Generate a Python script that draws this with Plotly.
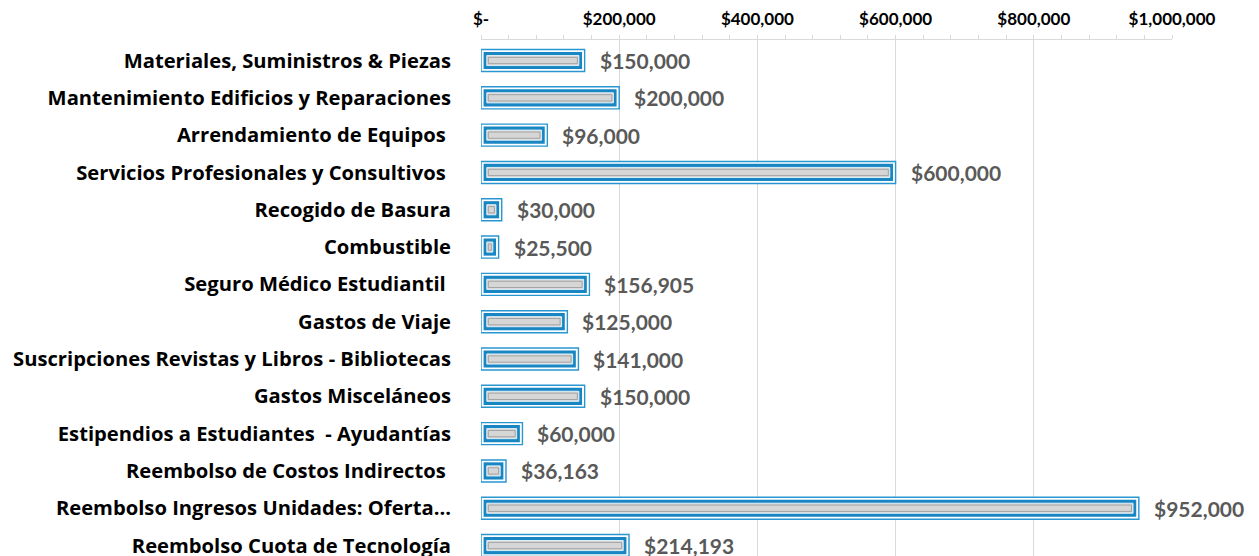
import plotly.graph_objects as go

categories = [
    "Materiales, Suministros & Piezas",
    "Mantenimiento Edificios y Reparaciones",
    "Arrendamiento de Equipos\u00a0",
    "Servicios Profesionales y Consultivos\u00a0",
    "Recogido de Basura",
    "Combustible",
    "Seguro Médico Estudiantil\u00a0",
    "Gastos de Viaje",
    "Suscripciones Revistas y Libros - Bibliotecas",
    "Gastos Misceláneos",
    "Estipendios a Estudiantes  - Ayudantías",
    "Reembolso de Costos Indirectos\u00a0",
    "Reembolso Ingresos Unidades: Oferta...",
    "Reembolso Cuota de Tecnología",
]
values = [150000, 200000, 96000, 600000, 30000, 25500, 156905, 125000,
          141000, 150000, 60000, 36163, 952000, 214193]
tick_vals = [0, 200000, 400000, 600000, 800000, 1000000]
tick_text = ["$-", "$200,000", "$400,000", "$600,000", "$800,000", "$1,000,000"]

OFF = 8  # default page body margin
W, H = 1259 - OFF, 556 - OFF
ML, MT = 481 - OFF, 40 - OFF
RIGHT = 1172 - OFF
PLOT_W = RIGHT - ML
XMAX = 1000000
px = XMAX / PLOT_W  # data units per pixel
labels_y = [c.replace("  ", " \u00a0") for c in categories]

fig = go.Figure()

def layer(inset, width, fill, lcolor, lwidth):
    fig.add_trace(go.Bar(
        y=labels_y, x=[max(v - 2 * inset * px, 0) for v in values],
        base=[inset * px] * len(values), orientation="h", width=width,
        marker=dict(color=fill, line=dict(color=lcolor, width=lwidth)),
        hoverinfo="skip", showlegend=False,
    ))

layer(0.0, 0.59, "#FFFFFF", "#2896D0", 1.4)
layer(2.6, 0.46, "#1786C2", "#1786C2", 0)
layer(5.8, 0.27, "#DADADA", "#DDEEF7", 1.0)
layer(7.3, 0.17, "#D6D6D6", "#9C9C9C", 0.9)

for c, v in zip(labels_y, values):
    fig.add_annotation(x=v, y=c, text=f"${v:,}", showarrow=False,
                       xanchor="left", yanchor="middle", xshift=13,
                       font=dict(family="Lato", size=21, color="#595959",
                                 weight="bold"))

fig.update_layout(
    width=W, height=H, barmode="overlay",
    margin=dict(l=ML, r=W - RIGHT, t=MT, b=0, autoexpand=False),
    plot_bgcolor="white", paper_bgcolor="white",
    font=dict(family="Lato", color="black"),
    xaxis=dict(side="top", range=[0, XMAX], tickvals=tick_vals, ticktext=tick_text,
               showgrid=True, gridcolor="#D9D9D9", gridwidth=1,
               showline=True, linecolor="#D9D9D9", linewidth=1,
               ticks="outside", ticklen=4, tickcolor="#D9D9D9",
               ticklabelstandoff=3,
               minor=dict(dtick=40000, ticks="outside", ticklen=4,
                          tickcolor="#D9D9D9", showgrid=False),
               tickfont=dict(family="Lato", size=17, color="black", weight="bold"),
               zeroline=False, fixedrange=True),
    yaxis=dict(autorange=False, range=[13.28, -0.55], type="category",
               categoryorder="array", categoryarray=labels_y,
               showgrid=False, showline=False, ticks="", ticklabelstandoff=29,
               tickfont=dict(family="Open Sans", size=20.2, color="black", weight="bold"),
               fixedrange=True, automargin=False),
)

fig.write_html("out.html")
